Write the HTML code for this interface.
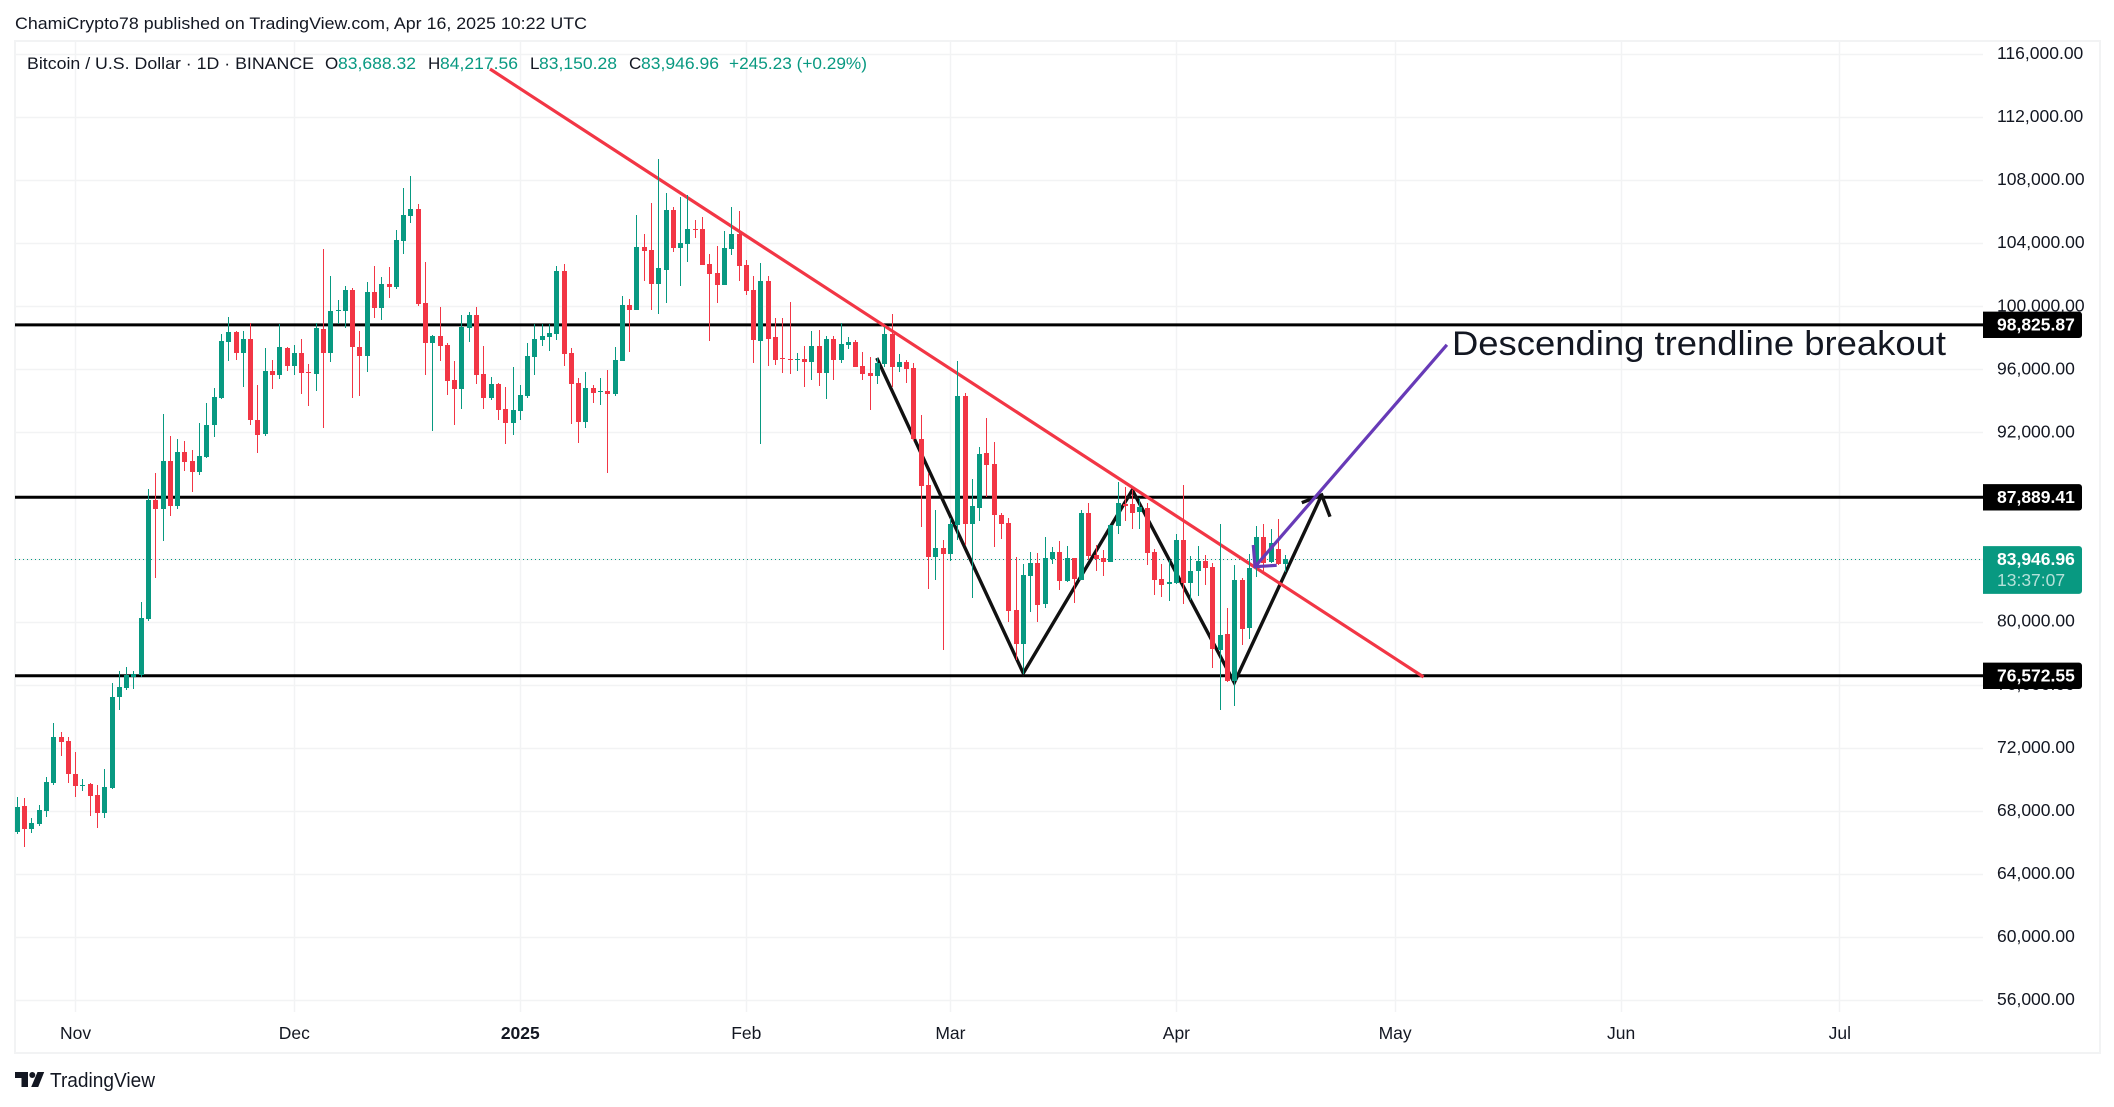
<!DOCTYPE html>
<html lang="en">
<head>
<meta charset="utf-8">
<title>BTC/USD chart</title>
<style>
html,body{margin:0;padding:0;background:#fff;width:2114px;height:1107px;overflow:hidden}
svg{display:block}
text{font-family:"Liberation Sans",Arial,sans-serif;fill:#131722}
</style>
</head>
<body>
<svg id="chart" xmlns="http://www.w3.org/2000/svg" width="2114" height="1107" viewBox="0 0 2114 1107">
  <rect x="0" y="0" width="2114" height="1107" fill="#ffffff"/>
  <rect x="15" y="41" width="2085" height="1012" fill="none" stroke="#f2f3f4" stroke-width="2"/>
  <text x="15" y="29" font-size="17" textLength="572" lengthAdjust="spacingAndGlyphs">ChamiCrypto78 published on TradingView.com, Apr 16, 2025 10:22 UTC</text>
  <g id="grid"></g>
  <g id="lowerDrawings"></g>
  <g id="candles"></g>
  <g id="upperDrawings"></g>
  <g font-size="17">
    <text x="27" y="69" textLength="287" lengthAdjust="spacingAndGlyphs">Bitcoin / U.S. Dollar · 1D · BINANCE</text>
    <text x="325" y="69">O</text>
    <text x="338" y="69" style="fill:#089981" textLength="78" lengthAdjust="spacingAndGlyphs">83,688.32</text>
    <text x="428" y="69">H</text>
    <text x="440" y="69" style="fill:#089981" textLength="78" lengthAdjust="spacingAndGlyphs">84,217.56</text>
    <text x="530" y="69">L</text>
    <text x="539" y="69" style="fill:#089981" textLength="78" lengthAdjust="spacingAndGlyphs">83,150.28</text>
    <text x="629" y="69">C</text>
    <text x="641" y="69" style="fill:#089981" textLength="78" lengthAdjust="spacingAndGlyphs">83,946.96</text>
    <text x="729" y="69" style="fill:#089981" textLength="138" lengthAdjust="spacingAndGlyphs">+245.23 (+0.29%)</text>
  </g>
  <text x="1452" y="355" font-size="34" textLength="494" lengthAdjust="spacingAndGlyphs">Descending trendline breakout</text>
  <g id="priceAxis"></g>
  <g id="timeAxis"></g>
  <g id="priceLabels"></g>
  <g>
    <path d="M15 1072h13v15h-6.5v-9H15z" fill="#131722"/>
    <circle cx="32.3" cy="1075" r="3" fill="#131722"/>
    <path d="M37.5 1072h6.7l-6 15h-7z" fill="#131722"/>
    <text x="50" y="1087" font-size="20" textLength="105" lengthAdjust="spacingAndGlyphs">TradingView</text>
  </g>
</svg>
<script>
// Candle values, one entry per daily bar from Oct 24 to Apr 16
const opens = [66680,68290,66860,67155,67990,69780,72720,72405,70320,69555,69690,68990,67880,69465,75230,75795,76500,76590,80160,87740,87175,90205,87310,90770,90205,89480,90430,92445,94180,97755,98370,97060,97925,92785,91915,95895,95660,97355,96235,97040,95830,95725,98560,97060,99725,99725,101035,97420,96870,100910,99915,101420,101250,104170,105755,106180,100210,97695,98115,97545,95325,94775,98645,99450,95705,94180,95070,93480,92615,93375,94310,96805,97860,98055,98265,102245,97040,95135,92680,94815,94585,94625,94455,96550,100085,99790,103765,103575,101440,102330,106115,103725,103980,104910,104910,102685,102115,101375,103660,104590,102625,101035,97820,101610,98055,96700,96655,96615,96655,96485,97480,95790,97925,96615,97545,97735,96210,95770,95600,96360,98245,96150,96465,96085,91580,88660,84110,84660,84300,86120,94305,86200,87220,90690,89990,86755,86245,80720,78585,82900,83705,81105,83960,84405,82565,84025,82650,86880,84215,84025,83770,86075,87470,87450,86945,87195,84405,82690,82375,82435,85165,82435,83195,83830,83450,78180,79195,76210,82625,79575,83385,85355,83765,84590,83688.32];
const highs = [68875,68805,67540,68355,70140,73555,73035,72720,71725,70005,69755,69645,70640,76090,76905,77110,76905,81270,88440,89460,93190,91790,91610,91470,90905,92625,93890,94840,98245,99320,98435,98435,98950,95005,97355,96595,98900,97400,97545,97925,96340,98920,103640,101925,100400,101290,101165,98435,101545,102560,101860,102495,104845,107510,108275,106495,102815,98160,99960,97670,96530,99450,99640,99960,97480,95515,95135,94880,96150,95005,97670,98900,98900,98900,102560,102685,97355,95450,95830,95005,95450,95960,97420,100655,100465,105800,104590,106560,109340,107195,106305,106940,107065,105480,105670,103320,103830,104780,106305,106050,102940,101925,102750,101925,99260,99260,100275,97040,97480,98435,98500,98115,98115,98940,98055,97860,97100,96785,96720,98710,99515,96975,96595,96400,93100,89400,87070,85165,86560,96530,94500,89040,91070,92910,91385,86880,86560,84085,83640,84405,84340,85355,84720,85100,84785,84060,87070,87515,84850,84530,86120,88850,88530,88340,87830,87515,84595,83640,83895,85545,88655,84145,84780,84210,83705,86180,80845,83575,82750,84275,86050,86180,85860,86495,84217.56];
const lows = [66545,65730,66590,67045,67630,69645,71455,69755,68900,69235,67675,66905,67540,69400,74395,75640,75705,76500,80025,82765,85140,86720,87130,89570,88215,89325,90400,91700,94120,96530,96595,94900,92465,90710,91770,94775,95410,95915,95660,94455,93675,94645,92300,96485,98855,98645,94200,94330,95855,99280,99155,100550,101120,103345,105310,100040,95660,92105,96550,94390,92490,93505,97735,95090,93505,94075,92785,91280,91855,92805,94200,95660,97505,97185,97885,96235,92550,91345,92300,93885,93760,89440,94310,96530,97120,99760,101630,99790,99535,100235,103470,101310,102835,104360,102600,97820,100235,101340,103280,101630,100740,96425,91280,96235,96295,95790,95725,95915,94900,95345,94965,94140,95345,96425,97315,96150,95345,93440,95090,96170,94900,95855,95155,91475,86010,82075,82650,78205,83855,85185,84850,81505,86395,87915,84745,85250,79980,77550,76700,80615,79980,80870,83665,82015,82520,81190,82630,83895,83200,82880,83770,85545,86370,85865,85865,83580,81675,81550,81295,82375,81100,81355,81610,82305,77040,74370,76150,74625,78500,78880,82815,83195,83705,83600,83150.28];
const closes = [68240,66860,67225,68040,69825,72675,72360,70345,69575,69620,68945,67880,69510,75255,75840,76610,76655,80205,87740,87175,90205,87310,90770,90115,89480,90520,92490,94255,97800,98370,97060,97925,92805,91855,95895,95660,97420,96235,97040,95790,95790,98625,97060,99705,99765,101035,97440,96870,100910,99915,101420,101225,104210,105800,106180,100170,97695,98115,97505,95280,94775,98690,99450,95660,94200,95070,93440,92615,93420,94370,96845,97925,98115,98305,102245,96995,95090,92680,94815,94520,94625,94455,96595,100085,99790,103765,103535,101440,102435,106115,103725,104020,104910,104865,102645,102075,101375,103700,104590,102580,100995,97885,101610,97950,96615,96655,96615,96655,96465,97480,95790,97925,96615,97610,97735,96170,95725,95580,96400,98245,96170,96465,96045,91600,88615,84110,84660,84300,86180,94305,86200,87325,90625,89925,86775,86180,80680,78585,82945,83705,81040,84025,84405,82585,84025,82710,86880,84150,83960,83770,86120,87515,87345,86880,87260,84340,82625,82310,82500,85165,82435,83195,83830,83385,78245,79130,76210,82625,79515,83385,85355,83705,84975,83640,83946.96];

// Axis values
const priceTicks = [116000,112000,108000,104000,100000,96000,92000,88000,84000,80000,76000,72000,68000,64000,60000,56000];
const timeLabels = ["Nov","Dec","2025","Feb","Mar","Apr","May","Jun","Jul"];
const timeBars = [8,38,69,100,128,159,189,220,250];

// Horizontal levels and last price
const levelPrices = [98825.87,87889.41,76572.55];
const lastPrice = 83946.96;
const countdown = "13:37:07";

// Line tools: anchors as bar number and price
const trendBars = [64.84,192.9];
const trendPrices = [115047,76494];
const patternBars = [117.9,138,152.95,166.94,178.93];
const patternPrices = [96722,76728,88351,76132,88034];
const patternHeadBars = [176.2,178.93,180.07];
const patternHeadPrices = [87546,88034,86659];
const arrowBars = [196.1,169.78];
const arrowPrices = [97560,83488];
const arrowHeadBars = [169.55,169.78,172.76];
const arrowHeadPrices = [84864,83488,83577];

const NS = "http://www.w3.org/2000/svg";
const UP = "#089981", DOWN = "#f23645";
const PANE_L = 15, PANE_R = 1983, PANE_T = 41, PANE_B = 1012;
const GRID = "#f2f3f4";

function xScale(bar){ return 17.3 + 7.29 * bar; }
function yScale(price){ return 306.3 + (100000 - price) * 0.01577; }
function fmt(v){ return v.toLocaleString("en-US",{minimumFractionDigits:2,maximumFractionDigits:2}); }
function make(tag, attrs, parent){
  const el = document.createElementNS(NS, tag);
  for (const k in attrs) el.setAttribute(k, attrs[k]);
  parent.appendChild(el);
  return el;
}
function pointsOf(bars, prices){
  return bars.map((b,i)=>xScale(b).toFixed(1)+","+yScale(prices[i]).toFixed(1)).join(" ");
}

const grid = document.getElementById("grid");
priceTicks.forEach(p=>{
  const y = Math.round(yScale(p)) + 0.5;
  const line = make("line",{x1:PANE_L,x2:PANE_R,y1:y,y2:y,stroke:GRID,"stroke-width":1.4},grid);
  
  
});
timeBars.forEach(b=>{
  const x = Math.floor(xScale(b)) + 0.5;
  const line = make("line",{x1:x,x2:x,y1:PANE_T,y2:PANE_B,stroke:GRID,"stroke-width":1.4},grid);
  
  
});

const lower = document.getElementById("lowerDrawings");
const lastY = yScale(lastPrice);
const lastLine = make("line",{x1:PANE_L,x2:PANE_R,y1:lastY,y2:lastY,stroke:UP,"stroke-width":1,"stroke-dasharray":"1 3"},lower);



levelPrices.forEach(p=>{
  const y = yScale(p);
  const line = make("line",{x1:PANE_L,x2:PANE_R,y1:y,y2:y,stroke:"#000000","stroke-width":3},lower);
  
  
});

const pattern = make("polyline",{points:pointsOf(patternBars,patternPrices),fill:"none",stroke:"#111111","stroke-width":3.4,"stroke-linejoin":"miter"},lower);


const patternHead = make("polyline",{points:pointsOf(patternHeadBars,patternHeadPrices),fill:"none",stroke:"#111111","stroke-width":3.4},lower);



const trend = make("polyline",{points:pointsOf(trendBars,trendPrices),fill:"none",stroke:DOWN,"stroke-width":3.2},lower);



const candlesG = document.getElementById("candles");
opens.forEach((o,i)=>{
  const c = closes[i];
  const col = c >= o ? UP : DOWN;
  const x = Math.floor(xScale(i));
  const yh = Math.round(yScale(highs[i]));
  const yl = Math.round(yScale(lows[i]));
  const yt = Math.round(yScale(Math.max(o,c)));
  const yb = Math.round(yScale(Math.min(o,c)));
  const wick = make("rect",{x:x,y:yh,width:1,height:Math.max(1,yl-yh),fill:col,"shape-rendering":"crispEdges"},candlesG);
  
  
  const body = make("rect",{x:x-2,y:yt,width:5,height:Math.max(1,yb-yt),fill:col,"shape-rendering":"crispEdges"},candlesG);
  
  
});

const upper = document.getElementById("upperDrawings");
const arrow = make("polyline",{points:pointsOf(arrowBars,arrowPrices),fill:"none",stroke:"#673ab7","stroke-width":3.2},upper);


const arrowHead = make("polyline",{points:pointsOf(arrowHeadBars,arrowHeadPrices),fill:"none",stroke:"#673ab7","stroke-width":3.2},upper);



const priceAxis = document.getElementById("priceAxis");
priceTicks.forEach(p=>{
  const t = make("text",{x:1997,y:(yScale(p)+5).toFixed(1),"font-size":17.5},priceAxis);
  t.textContent = fmt(p);
  
  
});

const timeAxis = document.getElementById("timeAxis");
timeLabels.forEach((lab,i)=>{
  const t = make("text",{x:xScale(timeBars[i]).toFixed(1),y:1039,"font-size":17.5,"text-anchor":"middle"},timeAxis);
  if (lab === "2025") t.setAttribute("font-weight","700");
  t.textContent = lab;
  
  
});

const priceLabels = document.getElementById("priceLabels");
levelPrices.forEach(p=>{
  const y = yScale(p);
  const box = make("path",{d:`M1983 ${(y-13.2).toFixed(1)}h96a3 3 0 0 1 3 3v20.4a3 3 0 0 1 -3 3h-96z`,fill:"#000000"},priceLabels);
  
  
  const t = make("text",{x:1997,y:(y+5.5).toFixed(1),"font-size":17.5,"font-weight":"700",style:"fill:#ffffff"},priceLabels);
  t.textContent = fmt(p);
  
  
});
const lastBox = make("path",{d:`M1983 ${(lastY-13.4).toFixed(1)}h96a3 3 0 0 1 3 3v41.8a3 3 0 0 1 -3 3h-96z`,fill:UP},priceLabels);


const lastText = make("text",{x:1997,y:(lastY+5.6).toFixed(1),"font-size":17.5,"font-weight":"700",style:"fill:#ffffff"},priceLabels);
lastText.textContent = fmt(lastPrice);


const cdText = make("text",{x:1997,y:(lastY+26.3).toFixed(1),"font-size":17.5,style:"fill:#ffffff;fill-opacity:.7"},priceLabels);
cdText.textContent = countdown;


</script>
</body>
</html>
